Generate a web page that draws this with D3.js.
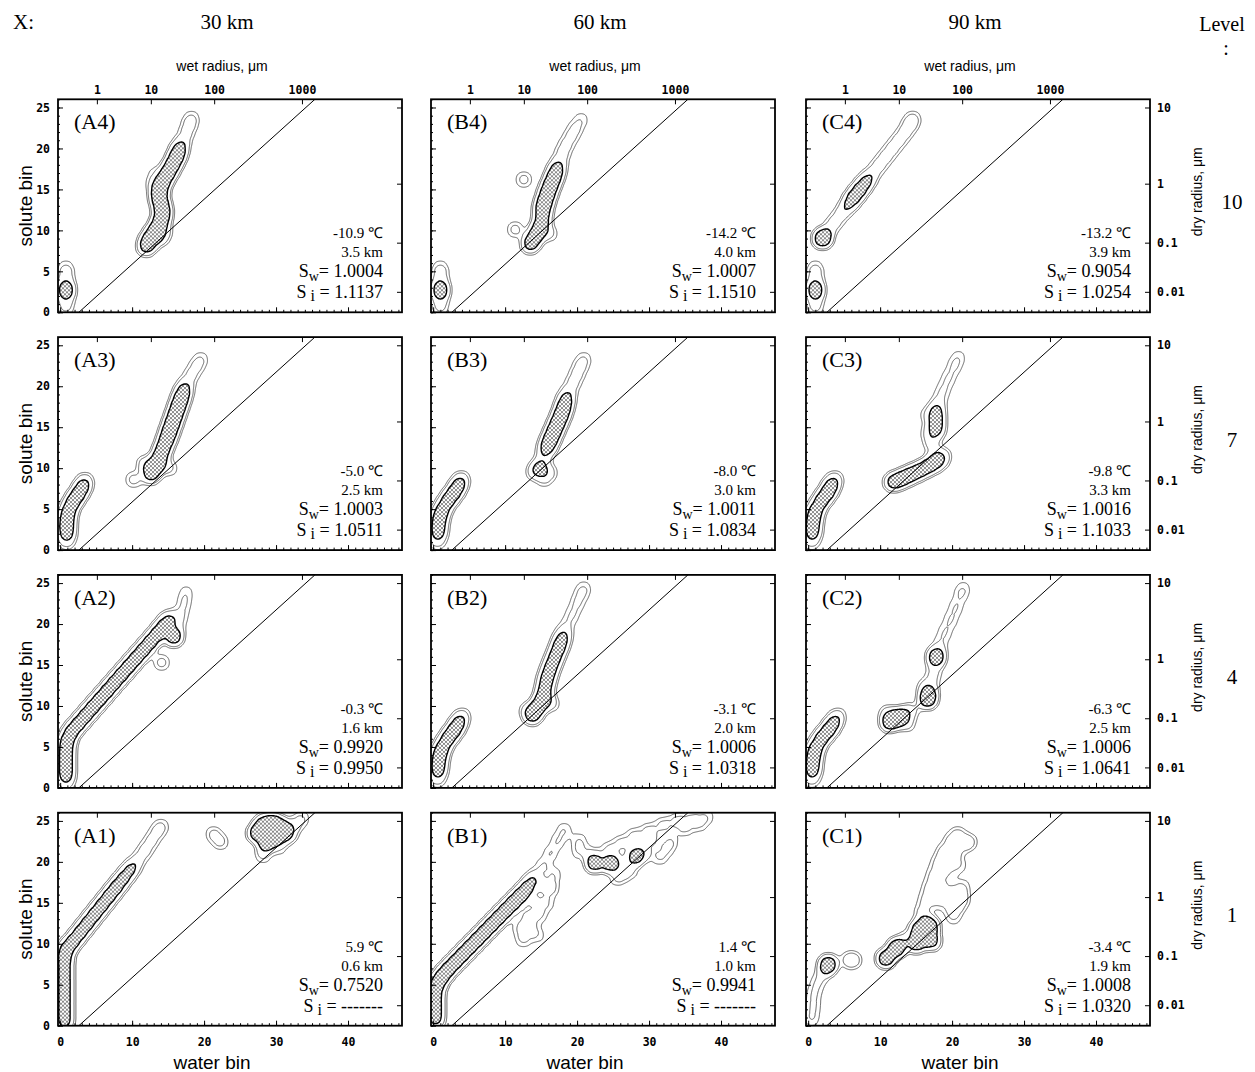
<!DOCTYPE html>
<html>
<head>
<meta charset="utf-8">
<script src="https://cdn.jsdelivr.net/npm/d3@7"></script>
<style>
  body { margin: 0; background: #fff; }
  .serif { font-family: 'Liberation Serif', 'Times New Roman', serif; }
  .sans { font-family: 'Liberation Sans', Arial, sans-serif; }
  .tick text { font-family: 'DejaVu Sans Mono', monospace; font-weight: bold; font-size: 11.5px; }
</style>
</head>
<body>
<svg id="canvas" width="1255" height="1072"></svg>
<script>
// column headers, row levels, panel names
let columns = ['30 km', '60 km', '90 km']
let levels = ['10', '7', '4', '1']
let panelNames = [
  ['A4', 'B4', 'C4'],
  ['A3', 'B3', 'C3'],
  ['A2', 'B2', 'C2'],
  ['A1', 'B1', 'C1']
]
let temps = [
  ['-10.9', '-14.2', '-13.2'],
  ['-5.0', '-8.0', '-9.8'],
  ['-0.3', '-3.1', '-6.3'],
  ['5.9', '1.4', '-3.4']
]
let heights = [
  ['3.5', '4.0', '3.9'],
  ['2.5', '3.0', '3.3'],
  ['1.6', '2.0', '2.5'],
  ['0.6', '1.0', '1.9']
]
let satWater = [
  ['1.0004', '1.0007', '0.9054'],
  ['1.0003', '1.0011', '1.0016'],
  ['0.9920', '1.0006', '1.0006'],
  ['0.7520', '0.9941', '1.0008']
]
let satIce = [
  ['1.1137', '1.1510', '1.0254'],
  ['1.0511', '1.0834', '1.1033'],
  ['0.9950', '1.0318', '1.0641'],
  ['-------', '-------', '1.0320']
]

// secondary axes (positions in bins)
let wetTicks = [5.1, 12.6, 21.4, 33.6]
let wetLabels = ['1', '10', '100', '1000']
let dryTicks = [25, 15.7, 8.5, 2.5]
let dryLabels = ['10', '1', '0.1', '0.01']
let waterTicks = [0, 10, 20, 30, 40]
let soluteTicks = [0, 5, 10, 15, 20, 25]

// reference line (water bin, solute bin)
let refLineW = [2.6, 35.4]
let refLineS = [0, 26]

// distribution ridges: [water bin, solute bin, weight]
let blobA4 = [
  [0.8, 0.5, 1.5], [0.8, 1.5, 1.5], [0.8, 2.7, 6], [0.8, 3.8, 1.5], [0.8, 4.8, 1.5], [0.8, 5.6, 1],
  [12, 8, 5], [12.4, 9, 5], [13.2, 10, 5], [13.9, 11, 5], [14.3, 12, 5], [14.1, 13, 5], [13.7, 14, 5],
  [13.8, 15, 5], [14.3, 16, 5], [15, 17, 5], [15.6, 18, 5], [16.2, 19, 5], [16.6, 20, 4],
  [17.1, 21, 1.5], [17.6, 22, 1.5], [18, 23, 1.5], [18.3, 23.8, 1.2],
  [13.8, 9, 2.5], [14.6, 9.8, 1.5], [12.7, 15.8, 1], [13, 17.2, 0.8]
]
let blobB4 = [
  [1, 0.5, 1.5], [1, 1.5, 1.5], [1, 2.7, 6], [1, 3.8, 1.5], [1, 4.8, 1.5], [1, 5.6, 1],
  [13.5, 8.3, 5], [14.2, 9.3, 5], [14.8, 10.3, 4.5], [15.2, 11.3, 4], [15.2, 12.5, 5], [15.5, 13.5, 5],
  [15.9, 14.5, 5], [16.3, 15.5, 5], [16.8, 16.5, 5], [17.2, 17.5, 4], [17.6, 18.5, 1.5], [18, 19.5, 1.5],
  [18.5, 20.5, 1.5], [19.2, 21.5, 1.5], [19.8, 22.5, 1.5], [20.6, 23.6, 1.2],
  [11.4, 10.1, 2], [12.6, 16.2, 2], [16.2, 9.6, 1.8]
]
let blobC4 = [
  [1, 0.5, 1.5], [1, 1.5, 1.5], [1, 2.7, 6], [1, 3.8, 1.5], [1, 4.8, 1.5], [1, 5.6, 1],
  [2, 9, 8], [2.8, 10, 1.9], [3.7, 11, 1.9], [4.6, 12, 1.9], [5.5, 13, 3], [6.3, 14, 4.8],
  [7.2, 15, 4.8], [8.1, 16, 4], [9, 17, 1.9], [9.9, 18, 1.9], [10.8, 19, 1.9], [11.7, 20, 1.9],
  [12.6, 21, 1.9], [13.5, 22, 1.9], [14.2, 23, 1.9], [14.6, 23.7, 1.4]
]
let blobA3 = [
  [0.9, 1, 2], [0.9, 2.2, 5], [0.9, 3.4, 5], [1.1, 4.6, 5], [1.7, 5.8, 5], [2.5, 6.8, 5], [3.2, 7.8, 4], [3.5, 8.6, 1.5],
  [10.2, 8.6, 2],
  [12.6, 9.2, 5], [13.3, 10.2, 5], [13.8, 11.3, 5], [14.3, 12.4, 5], [14.8, 13.5, 5], [15.2, 14.5, 5],
  [15.6, 15.5, 5], [16, 16.5, 5], [16.4, 17.5, 5], [16.8, 18.5, 5], [17.2, 19.5, 4], [17.6, 20.5, 1.5],
  [18.3, 21.5, 1.5], [19, 22.5, 1.5], [19.6, 23.4, 1.2], [11.8, 10.5, 2.5], [15.2, 10, 1.8]
]
let blobB3 = [
  [0.6, 1, 2], [0.7, 2.3, 5], [0.8, 3.6, 5], [1.2, 4.8, 5], [2, 6, 5], [2.9, 7, 5], [3.6, 8, 4], [4, 8.8, 1.5],
  [14.8, 10, 4], [14, 9.5, 1.8], [16.2, 9.5, 1.8], [15.4, 8.6, 1.5], [15.3, 11.3, 2], [15.8, 12.5, 4.5],
  [16.3, 13.5, 5], [16.8, 14.5, 5], [17.3, 15.5, 5], [17.8, 16.5, 5], [18.2, 17.5, 4.5], [18.5, 18.5, 3.5],
  [18.9, 19.5, 1.5], [19.5, 20.5, 1.5], [20, 21.5, 1.5], [20.5, 22.5, 1.5], [21, 23.4, 1.2]
]
let blobC3 = [
  [0.5, 1, 2], [0.6, 2.3, 5], [0.7, 3.6, 5], [1, 4.8, 5], [1.8, 6, 5], [2.7, 7, 5], [3.3, 8, 4], [3.8, 8.8, 1.5],
  [11.8, 8.3, 5], [13, 8.7, 5], [14.2, 9.2, 5], [15.5, 9.7, 5], [16.8, 10.3, 5], [18, 10.8, 4], [18.8, 11.5, 2],
  [17.5, 12, 1.5], [17.1, 13.3, 2], [17.8, 14.6, 4], [17.8, 15.8, 4.5], [17.8, 17, 4], [18.2, 18.3, 1.5],
  [18.8, 19.6, 1.5], [19.5, 21, 1.5], [20.3, 22.4, 1.5], [20.9, 23.6, 1.2], [16.4, 14.5, 1], [16.2, 16.5, 1]
]
let blobA2 = [
  [0.8, 0.5, 2], [0.8, 1.7, 5], [0.8, 3, 5], [0.8, 4.3, 5], [0.9, 5.6, 5], [1.5, 6.8, 5], [2.5, 7.8, 5],
  [3.5, 8.8, 5], [4.5, 9.8, 5], [5.5, 10.8, 5], [6.5, 11.8, 5], [7.5, 12.8, 5], [8.5, 13.8, 5], [9.5, 14.8, 5],
  [10.5, 15.8, 5], [11.5, 16.8, 5], [12.5, 17.8, 5], [13.5, 18.8, 5], [14.4, 19.8, 4.5], [15.2, 20.7, 3],
  [15.8, 18.4, 6], [16.3, 19.6, 1.5], [16.8, 21, 1.5], [17.2, 22.5, 1.5], [17.5, 23.9, 1.2],
  [14.1, 15.3, 2]
]
let blobB2 = [
  [0.6, 1, 2], [0.7, 2.3, 5], [0.8, 3.6, 5], [1.2, 4.8, 5], [2, 6, 5], [2.9, 7, 5], [3.6, 8, 4], [4.1, 8.9, 1.5],
  [13.8, 8.8, 5], [14.5, 9.8, 5], [15.2, 10.8, 5], [15.5, 12, 4.5], [15.8, 13.3, 5], [16.3, 14.6, 5],
  [16.9, 15.9, 5], [17.5, 17.2, 5], [18, 18.4, 4], [18.5, 19.7, 1.5], [19.3, 21.1, 1.5], [20, 22.5, 1.5],
  [20.6, 23.7, 1.3], [21, 24.5, 1], [16.5, 10.3, 1.8], [13, 9.5, 1.5]
]
let blobC2 = [
  [0.5, 1, 2], [0.6, 2.3, 5], [0.7, 3.6, 5], [1, 4.8, 5], [1.8, 6, 5], [2.8, 7, 5], [3.6, 8, 4], [4.2, 8.9, 1.5],
  [11.3, 8, 6], [12.4, 8.5, 6], [13.3, 9, 3], [11, 9.2, 1.8], [13.8, 7.8, 1.8], [14.5, 9.5, 1.5],
  [16.6, 10.8, 7], [16.9, 11.8, 3], [16.2, 12.3, 1.5],
  [17.3, 13.4, 1.5], [17.6, 14.6, 1.5], [17.8, 16, 7], [18.3, 17.5, 1.5], [19, 19, 1.5], [19.8, 20.5, 1.5],
  [20.5, 22, 1.5], [21.2, 23.5, 1.3], [21.6, 24.5, 1]
]
let blobA1 = [
  [0.6, 0.5, 5], [0.6, 2, 5], [0.6, 3.5, 5], [0.6, 5, 5], [0.6, 6.5, 5], [0.6, 8, 5], [0.8, 9.3, 5],
  [1.8, 10.3, 5], [2.8, 11.4, 5], [3.8, 12.5, 5], [4.8, 13.6, 5], [5.8, 14.7, 5], [6.8, 15.8, 5],
  [7.8, 16.9, 5], [8.8, 18, 4.5], [9.8, 19.1, 4], [10.8, 20.2, 2], [11.8, 21.4, 2], [12.7, 22.6, 1.8],
  [13.5, 23.7, 1.5], [14.1, 24.4, 1.3],
  [21.3, 23.4, 1.8], [22.3, 22.4, 1.8],
  [27.3, 23.5, 6], [28.2, 24.6, 6], [29.6, 24.8, 6], [30.8, 24.2, 6], [28.6, 22.3, 6], [30, 23, 6],
  [31.6, 23.3, 4], [32.6, 24.4, 1.8], [33.6, 25.3, 1.5], [28.2, 20.8, 1.8], [30.5, 21.6, 1.2]
]
let blobB1 = [
  [0.3, 0.8, 5], [0.3, 2.2, 5], [0.3, 3.6, 5], [0.5, 5, 5], [1.2, 6, 5], [2.1, 6.9, 5], [3.1, 7.8, 5],
  [4.1, 8.7, 5], [5.1, 9.6, 5], [6.1, 10.5, 5], [7.1, 11.4, 5], [8.1, 12.3, 5], [9.1, 13.2, 5],
  [10.1, 14.1, 5], [11.1, 15, 5], [12.1, 15.9, 5], [13.1, 16.9, 4.5], [14, 18, 3],
  [15.2, 19.5, 1.5], [16.3, 21, 1.5], [17.3, 22.5, 1.5], [18.2, 23.9, 1.5],
  [12.5, 10.5, 1.7], [13.5, 12, 1.7], [14.8, 13.5, 1.7], [15.8, 15, 1.6], [16.5, 16.8, 1.6], [14, 15.2, 1.4],
  [16.8, 18.5, 1.4], [12, 12, 1.5], [13, 13.5, 1.5], [15.5, 17, 1.5], [14.5, 11, 1.3],
  [20.3, 21.2, 1.5], [20.3, 22.6, 1.5], [22.2, 21, 1.5], [22.4, 19.8, 6], [24.6, 19.8, 6], [28.1, 20.6, 5],
  [24.5, 21.5, 1.9], [26.2, 22.3, 1.9], [28, 23.2, 1.9], [30, 23.8, 1.9], [32, 24.5, 1.9], [34, 25, 1.9],
  [36, 25.3, 1.6], [38, 25.5, 1.4], [29.5, 21, 1.5], [31.5, 20.5, 1.5], [27.5, 19, 1.5], [25.5, 18, 1.5],
  [33, 22.5, 1.4], [26, 20, 1.5], [28.5, 21.5, 1.5], [30.5, 22.5, 1.5], [35, 24, 1.5], [37, 24.5, 1.3],
  [32.5, 21.5, 1.2], [26.5, 18.5, 1.3]
]
let blobC1 = [
  [0.5, 0.8, 1.5], [0.7, 2.3, 1.5], [0.8, 3.8, 1.5], [1.3, 5.2, 1.5], [2.2, 6.5, 2], [2.8, 7.5, 7],
  [5.6, 8, 1.8], [6.4, 8, 1.8],
  [10.8, 8.2, 7], [12.2, 9.4, 7], [12.8, 10, 1.8], [13.6, 10.8, 1.2],
  [15, 10, 6], [16, 11, 6], [17, 12, 6], [15.3, 11.8, 5], [17.2, 10.3, 5], [16.4, 12.6, 3],
  [15.8, 13.8, 1.8], [16.3, 15.3, 1.8], [16.8, 16.8, 1.8], [17.4, 18.3, 1.8], [18, 19.8, 1.8], [18.8, 21.2, 1.8],
  [19.8, 22.5, 1.8], [20.8, 23.4, 1.8], [21.8, 22.2, 1.8], [20.5, 16.2, 1.8], [20.8, 14.6, 1.8], [20.2, 13.2, 1.5],
  [19.5, 20.5, 1.6], [20.5, 21, 1.6], [21.5, 15.5, 1.6], [21.5, 17, 1.4], [19.8, 14.5, 1.4],
  [18, 15, 1.4], [18.5, 17, 1.4], [19.5, 18.5, 1.4], [21, 19.5, 1.4], [22.5, 22.5, 1.4], [19, 16, 1.4]
]

let blobs = {
  A4: blobA4, B4: blobB4, C4: blobC4,
  A3: blobA3, B3: blobB3, C3: blobC3,
  A2: blobA2, B2: blobB2, C2: blobC2,
  A1: blobA1, B1: blobB1, C1: blobC1
}
let contourLevels = [0.004, 0.0075, 0.018]

let panelW = 344
let panelH = 213
let colLeft = [58, 431, 806]
let rowBottom = [312.3, 550.1, 787.9, 1025.7]

let svg = d3.select('#canvas')

let defs = svg.append('defs')
let pattern = defs.append('pattern')
  .attr('id', 'stipple')
  .attr('width', 4)
  .attr('height', 4)
  .attr('patternUnits', 'userSpaceOnUse')
pattern.append('rect').attr('width', 4).attr('height', 4).attr('fill', '#fff')
pattern.append('circle').attr('cx', 1).attr('cy', 1).attr('r', 0.9).attr('fill', '#555')
pattern.append('circle').attr('cx', 3).attr('cy', 3).attr('r', 0.9).attr('fill', '#555')
defs.append('clipPath').attr('id', 'panelClip')
  .append('rect').attr('width', panelW).attr('height', panelH)

let x = d3.scaleLinear().domain([-0.3, 47.5]).range([0, panelW])
let y = d3.scaleLinear().domain([0, 26]).range([panelH, 0])

let density = d3.contourDensity()
  .x(d => x(d[0]))
  .y(d => y(d[1]))
  .weight(d => d[2])
  .size([panelW, panelH])
  .cellSize(1)
  .bandwidth(5.5)
  .thresholds(contourLevels)

let path = d3.geoPath()

let styleAxis = (sel) => {
  sel.select('.domain').remove()
  sel.selectAll('line').attr('stroke', '#000').attr('stroke-width', 1)
}

panelNames.forEach((row, r) => {
  row.forEach((name, c) => {
    let g = svg.append('g')
      .attr('transform', 'translate(' + colLeft[c] + ',' + (rowBottom[r] - panelH) + ')')

    let plot = g.append('g').attr('clip-path', 'url(#panelClip)')

    let contours = density(blobs[name])
    plot.selectAll('path')
      .data(contours)
      .enter()
      .append('path')
      .attr('d', path)
      .attr('fill', (d, i) => i === 2 ? 'url(#stipple)' : 'none')
      .attr('stroke', (d, i) => i === 2 ? '#000' : '#444')
      .attr('stroke-width', (d, i) => i === 2 ? 1.4 : 0.8)

    plot.append('line')
      .attr('x1', x(refLineW[0]))
      .attr('y1', y(refLineS[0]))
      .attr('x2', x(refLineW[1]))
      .attr('y2', y(refLineS[1]))
      .attr('stroke', '#000')
      .attr('stroke-width', 1)

    // minor ticks
    g.append('g').attr('transform', 'translate(0,' + panelH + ')')
      .call(d3.axisBottom(x).tickValues(d3.range(0, 48)).tickSize(-2.5).tickFormat(''))
      .call(styleAxis)
    g.append('g')
      .call(d3.axisLeft(y).tickValues(d3.range(0, 27)).tickSize(-2).tickFormat(''))
      .call(styleAxis)

    // major ticks
    g.append('g').attr('transform', 'translate(0,' + panelH + ')')
      .call(d3.axisBottom(x).tickValues(waterTicks).tickSizeInner(-5).tickSizeOuter(0).tickPadding(12)
        .tickFormat(r === 3 ? d3.format('d') : ''))
      .call(styleAxis)
    g.append('g')
      .call(d3.axisLeft(y).tickValues(soluteTicks).tickSizeInner(-5).tickSizeOuter(0).tickPadding(8)
        .tickFormat(c === 0 ? d3.format('d') : ''))
      .call(styleAxis)
    g.append('g')
      .call(d3.axisTop(x).tickValues(wetTicks).tickSizeInner(-5).tickSizeOuter(0).tickPadding(5)
        .tickFormat((d, i) => r === 0 ? wetLabels[i] : ''))
      .call(styleAxis)
    g.append('g').attr('transform', 'translate(' + panelW + ',0)')
      .call(d3.axisRight(y).tickValues(dryTicks).tickSizeInner(-5).tickSizeOuter(0).tickPadding(7)
        .tickFormat((d, i) => c === 2 ? dryLabels[i] : ''))
      .call(styleAxis)

    g.append('rect')
      .attr('width', panelW)
      .attr('height', panelH)
      .attr('fill', 'none')
      .attr('stroke', '#000')
      .attr('stroke-width', 1.8)

    g.append('text')
      .attr('class', 'serif')
      .attr('x', 16)
      .attr('y', 30)
      .attr('font-size', 22)
      .text('(' + name + ')')

    let tx = panelW - 19
    g.append('text').attr('class', 'serif')
      .attr('x', tx).attr('y', panelH - 74)
      .attr('text-anchor', 'end').attr('font-size', 15)
      .text(temps[r][c] + ' \u2103')
    g.append('text').attr('class', 'serif')
      .attr('x', tx).attr('y', panelH - 55)
      .attr('text-anchor', 'end').attr('font-size', 15)
      .text(heights[r][c] + ' km')

    let swText = g.append('text').attr('class', 'serif')
      .attr('x', tx).attr('y', panelH - 35)
      .attr('text-anchor', 'end').attr('font-size', 18)
    swText.append('tspan').text('S')
    swText.append('tspan').attr('font-size', 14).attr('dy', 4).text('w')
    swText.append('tspan').attr('dy', -4).text('= ' + satWater[r][c])

    let siText = g.append('text').attr('class', 'serif')
      .attr('x', tx).attr('y', panelH - 14)
      .attr('text-anchor', 'end').attr('font-size', 18)
    siText.append('tspan').text('S')
    siText.append('tspan').attr('font-size', 16).attr('dy', 3).text(' i')
    siText.append('tspan').attr('dy', -3).text(' = ' + satIce[r][c])

    if (r === 0) {
      g.append('text').attr('class', 'sans')
        .attr('x', panelW / 2 - 8).attr('y', -28)
        .attr('text-anchor', 'middle').attr('font-size', 14)
        .text('wet radius, \u03bcm')
    }
    if (r === 3) {
      g.append('text').attr('class', 'sans')
        .attr('x', panelW / 2 - 18).attr('y', panelH + 43)
        .attr('text-anchor', 'middle').attr('font-size', 19)
        .text('water bin')
    }
    if (c === 0) {
      g.append('text').attr('class', 'sans')
        .attr('transform', 'translate(-26,' + (panelH / 2) + ') rotate(-90)')
        .attr('text-anchor', 'middle').attr('font-size', 19)
        .text('solute bin')
    }
    if (c === 2) {
      g.append('text').attr('class', 'sans')
        .attr('transform', 'translate(' + (panelW + 52) + ',' + (panelH / 2 - 14) + ') rotate(-90)')
        .attr('text-anchor', 'middle').attr('font-size', 14)
        .text('dry radius, \u03bcm')
      g.append('text').attr('class', 'serif')
        .attr('x', panelW + 82).attr('y', panelH / 2 + 3)
        .attr('text-anchor', 'middle').attr('font-size', 21)
        .text(levels[r])
    }
  })
})

svg.append('text').attr('class', 'serif')
  .attr('x', 13).attr('y', 29).attr('font-size', 21)
  .text('X:')
columns.forEach((label, i) => {
  svg.append('text').attr('class', 'serif')
    .attr('x', colLeft[i] + panelW / 2 - 3).attr('y', 29)
    .attr('text-anchor', 'middle').attr('font-size', 21)
    .text(label)
})
svg.append('text').attr('class', 'serif')
  .attr('x', 1222).attr('y', 31).attr('text-anchor', 'middle').attr('font-size', 20)
  .text('Level')
svg.append('text').attr('class', 'serif')
  .attr('x', 1226).attr('y', 55).attr('text-anchor', 'middle').attr('font-size', 20)
  .text(':')
</script>
</body>
</html>
